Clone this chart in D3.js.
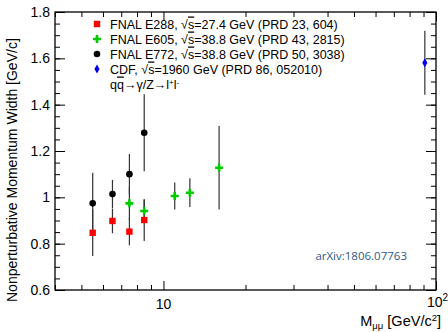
<!DOCTYPE html>
<html>
<head>
<meta charset="utf-8">
<script src="https://cdn.jsdelivr.net/npm/d3@7"></script>
<style>
  body { margin: 0; background: #fff; }
  text { font-family: "Liberation Sans", Arial, sans-serif; }
</style>
</head>
<body>
<div id="chart"></div>
<script>
const e288Mass = [5.5, 6.5, 7.5, 8.5];
const e288Width = [0.847, 0.898, 0.852, 0.902];
const e288Err = [0.10, 0.053, 0.059, 0.09];

const e605Mass = [7.5, 8.5, 11, 12.5, 16];
const e605Width = [0.974, 0.941, 1.006, 1.020, 1.128];
const e605Err = [0.07, 0.05, 0.058, 0.062, 0.18];

const e772Mass = [5.5, 6.5, 7.5, 8.5];
const e772Width = [0.974, 1.014, 1.100, 1.279];
const e772Err = [0.132, 0.061, 0.087, 0.166];

const cdfMass = [91];
const cdfWidth = [1.581];
const cdfErr = [0.138];

const yMajor = [0.6, 0.8, 1, 1.2, 1.4, 1.6, 1.8];
const yMinor = d3.range(0.6, 1.8001, 0.05);
const xMajor = [10, 100];
const xMinor = [4, 5, 6, 7, 8, 9, 20, 30, 40, 50, 60, 70, 80, 90];

const legendLabels = [
  { exp: "FNAL E288, ", rs: "27.4 GeV (PRD 23, 604)", marker: "square" },
  { exp: "FNAL E605, ", rs: "38.8 GeV (PRD 43, 2815)", marker: "cross" },
  { exp: "FNAL E772, ", rs: "38.8 GeV (PRD 50, 3038)", marker: "circle" },
  { exp: "CDF, ", rs: "1960 GeV (PRD 86, 052010)", marker: "diamond" }
];

const W = 448, H = 332;
const margin = { top: 12, left: 55, right: 12, bottom: 42 };
const width = W - margin.left - margin.right,
      height = H - margin.top - margin.bottom;

const svg = d3.select("#chart").append("svg")
  .attr("width", W).attr("height", H);
const g = svg.append("g")
  .attr("transform", "translate(" + margin.left + "," + margin.top + ")");

const x = d3.scaleLog().domain([4, 100]).range([0, width]);
const y = d3.scaleLinear().domain([0.6, 1.8]).range([height, 0]);

// frame
g.append("rect").attr("width", width).attr("height", height)
  .attr("fill", "none").attr("stroke", "#000").attr("stroke-width", 1.3);

// ticks (ROOT style, inside on all sides)
function tickAxis(axis, transform) {
  const a = g.append("g").attr("transform", transform).call(axis);
  a.select(".domain").remove();
  a.selectAll("line").attr("stroke", "#000");
  return a;
}
tickAxis(d3.axisLeft(y).tickValues(yMinor).tickSize(-5).tickFormat(""), "");
tickAxis(d3.axisRight(y).tickValues(yMinor).tickSize(-5).tickFormat(""), "translate(" + width + ",0)");
tickAxis(d3.axisRight(y).tickValues(yMajor).tickSize(-10).tickFormat(""), "translate(" + width + ",0)");
tickAxis(d3.axisLeft(y).tickValues(yMajor).tickSize(-10).tickFormat(""), "");

tickAxis(d3.axisBottom(x).tickValues(xMinor).tickSize(-5).tickFormat(""), "translate(0," + height + ")");
tickAxis(d3.axisTop(x).tickValues(xMinor).tickSize(-5).tickFormat(""), "");
tickAxis(d3.axisTop(x).tickValues(xMajor).tickSize(-9).tickFormat(""), "");
tickAxis(d3.axisBottom(x).tickValues(xMajor).tickSize(-9).tickFormat(""), "translate(0," + height + ")");

// y tick labels
g.selectAll(null).data(yMajor).enter().append("text")
  .attr("x", -5).attr("y", d => y(d) + 5).attr("text-anchor", "end")
  .attr("font-size", 14)
  .text(d => d === 1 ? "1" : d3.format(".1f")(d));

// x tick labels with superscript for 10^2
g.append("text").attr("x", x(10)).attr("y", height + 19).attr("text-anchor", "middle")
  .attr("font-size", 14).text("10");
const t100 = g.append("text").attr("x", x(100) - 9).attr("y", height + 17).attr("font-size", 14);
t100.append("tspan").text("10");
t100.append("tspan").attr("dy", -6).attr("font-size", 10).text("2");

// axis titles
const xt = svg.append("text").attr("x", 441).attr("y", 326)
  .attr("text-anchor", "end").attr("font-size", 14.5);
xt.append("tspan").text("M");
xt.append("tspan").attr("dy", 3).attr("font-size", 9.5).text("μμ");
xt.append("tspan").attr("dy", -3).text(" [GeV/c");
xt.append("tspan").attr("dy", -5).attr("font-size", 9.5).text("2");
xt.append("tspan").attr("dy", 5).text("]");

svg.append("text")
  .attr("transform", "translate(17," + (margin.top + height + 12) + ") rotate(-90)")
  .attr("text-anchor", "start").attr("font-size", 14)
  .text("Nonperturbative Momentum Width [GeV/c]");

// series
function zipSeries(m, w, e) { return m.map((d, i) => ({ m: d, w: w[i], e: e[i] })); }
const series = [
  { data: zipSeries(e605Mass, e605Width, e605Err), marker: "cross" },
  { data: zipSeries(e772Mass, e772Width, e772Err), marker: "circle" },
  { data: zipSeries(e288Mass, e288Width, e288Err), marker: "square" },
  { data: zipSeries(cdfMass, cdfWidth, cdfErr), marker: "diamond" }
];

// error bars
series.forEach(s => {
  g.selectAll(null).data(s.data).enter().append("line")
    .attr("x1", d => x(d.m)).attr("x2", d => x(d.m))
    .attr("y1", d => y(d.w - d.e)).attr("y2", d => y(d.w + d.e))
    .attr("stroke", "#333").attr("stroke-width", 1.2);
});

function drawMarker(sel, type) {
  if (type === "square") {
    sel.append("rect").attr("x", -3.2).attr("y", -3.2).attr("width", 6.4).attr("height", 6.4)
      .attr("fill", "#ff0000");
  } else if (type === "circle") {
    sel.append("circle").attr("r", 3.3).attr("fill", "#000");
  } else if (type === "cross") {
    sel.append("path").attr("d", "M-4,0H4M0,-4V4")
      .attr("stroke", "#00cc00").attr("stroke-width", 2.6);
  } else if (type === "diamond") {
    sel.append("path").attr("d", "M0,-4.5L2.6,0L0,4.5L-2.6,0Z").attr("fill", "#0000ee");
  }
}

series.forEach(s => {
  g.selectAll(null).data(s.data).enter().append("g")
    .attr("transform", d => "translate(" + x(d.m) + "," + y(d.w) + ")")
    .each(function () { drawMarker(d3.select(this), s.marker); });
});

// legend
const leg = svg.append("g").attr("transform", "translate(97,24)");
legendLabels.forEach((l, i) => {
  const row = leg.append("g").attr("transform", "translate(0," + i * 15 + ")");
  drawMarker(row.append("g"), l.marker);
  const t = row.append("text").attr("x", 13).attr("y", 4.5).attr("font-size", 12.5);
  t.append("tspan").text(l.exp + "√");
  t.append("tspan").style("text-decoration", "overline").text("s");
  t.append("tspan").text("=" + l.rs);
});
const proc = leg.append("text").attr("x", 13).attr("y", 64.5).attr("font-size", 12.5);
proc.append("tspan").text("q");
proc.append("tspan").style("text-decoration", "overline").text("q");
proc.append("tspan").text("→γ/Z→l");
proc.append("tspan").attr("dy", -4).attr("font-size", 8).text("+");
proc.append("tspan").attr("dy", 4).text("l");
proc.append("tspan").attr("dy", -4).attr("font-size", 8).text("-");

svg.append("text").attr("x", 407).attr("y", 260).attr("text-anchor", "end")
  .attr("font-size", 11.5).attr("fill", "#2e5a8a")
  .style("font-family", "'Open Sans', 'DejaVu Sans', sans-serif")
  .text("arXiv:1806.07763");
</script>
</body>
</html>
